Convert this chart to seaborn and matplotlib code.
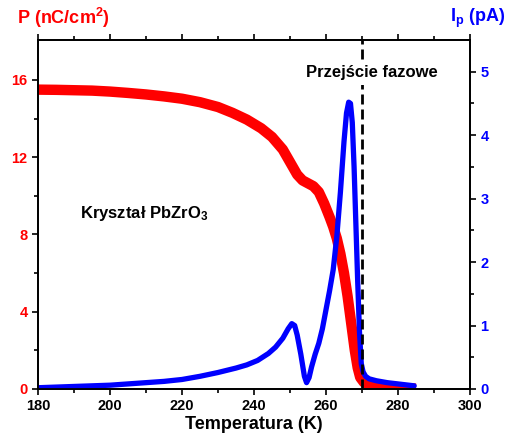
import numpy as np
import pandas as pd
import matplotlib
matplotlib.use("Agg")
from matplotlib import pyplot as plt
import seaborn as sns

# Polarization P (nC/cm^2) vs temperature
temp_p = [180, 185, 190, 195, 200, 205, 210, 215, 220, 225, 230, 234, 238, 242, 245,
          248, 250, 252, 253.5, 255, 256.5, 258, 259.5, 261, 262, 263, 264, 265, 266,
          267, 268, 268.8, 269.5, 270.5, 272, 275, 280, 285]
pol = [15.5, 15.49, 15.47, 15.45, 15.4, 15.33, 15.25, 15.15, 15.03, 14.85, 14.6, 14.3,
       13.95, 13.5, 13.05, 12.4, 11.75, 11.1, 10.8, 10.65, 10.5, 10.2, 9.6, 8.9, 8.4,
       7.8, 7.0, 6.0, 4.8, 3.4, 2.0, 1.1, 0.6, 0.35, 0.22, 0.12, 0.05, 0.02]

# Pyroelectric current Ip (pA) vs temperature
temp_i = [180, 185, 190, 195, 200, 205, 210, 215, 220, 225, 230, 235, 238, 241, 244,
          246, 248, 249.5, 250.5, 251.3, 252, 253, 254, 254.6, 255.3, 256, 257, 258,
          259, 260, 261, 262, 263, 264, 265, 265.7, 266.3, 266.8, 267.3, 267.8, 268.3,
          268.8, 269.3, 269.8, 270.3, 271, 272, 274, 277, 280, 284.5]
cur = [0.02, 0.03, 0.04, 0.05, 0.06, 0.08, 0.1, 0.12, 0.15, 0.2, 0.26, 0.33, 0.38, 0.45,
       0.56, 0.66, 0.8, 0.95, 1.03, 1.0, 0.85, 0.55, 0.2, 0.1, 0.18, 0.35, 0.55, 0.72,
       0.95, 1.25, 1.55, 1.88, 2.4, 3.1, 3.9, 4.35, 4.52, 4.5, 4.2, 3.5, 2.6,
       1.7, 0.9, 0.4, 0.27, 0.2, 0.16, 0.13, 0.1, 0.08, 0.05]

sns.set_style("ticks")
plt.rcParams["font.family"] = ["Liberation Sans", "DejaVu Sans"]
plt.rcParams["font.weight"] = "bold"
plt.rcParams["mathtext.default"] = "regular"
plt.rcParams["text.color"] = "black"
plt.rcParams["axes.labelcolor"] = "black"
plt.rcParams["xtick.color"] = "black"
plt.rcParams["ytick.color"] = "black"

red = "#ff0000"
blue = "#0000ff"

df_p = pd.DataFrame({"T": temp_p, "P": pol})
df_i = pd.DataFrame({"T": temp_i, "I": cur})

fig = plt.figure(figsize=(5.15, 4.41), dpi=100)
ax = fig.add_axes([38 / 515, 1 - 389 / 441, 432 / 515, 349 / 441])
ax2 = ax.twinx()

sns.lineplot(data=df_p, x="T", y="P", ax=ax, color=red, lw=7.5, solid_capstyle="butt")
sns.lineplot(data=df_i, x="T", y="I", ax=ax2, color=blue, lw=3.8)

ax2.axvline(270, color="black", lw=2, ls=(0, (3.6, 1.8)), zorder=5)

ax.set_xlim(180, 300)
ax.set_ylim(0, 18.07)
ax2.set_ylim(0, 5.5)

ax.set_xticks(np.arange(180, 301, 20))
ax.set_xticks(np.arange(190, 300, 20), minor=True)
ax.set_yticks([0, 4, 8, 12, 16])
ax.set_yticks([2, 6, 10, 14], minor=True)
ax2.set_yticks([0, 1, 2, 3, 4, 5])
ax2.set_yticks([0.5, 1.5, 2.5, 3.5, 4.5], minor=True)

ax.tick_params(axis="x", which="both", top=True, labelsize=10.5, width=1.2,
               color="black", labelcolor="black")
ax.tick_params(axis="x", which="major", length=4)
ax.tick_params(axis="x", which="minor", length=3)
ax.tick_params(axis="y", which="major", length=4, width=1.2, labelsize=10.5,
               color="black", labelcolor=red)
ax.tick_params(axis="y", which="minor", length=3, width=1.2, color="black")
ax2.tick_params(axis="y", which="major", length=4, width=1.2, labelsize=10.5,
                color="black", labelcolor=blue)
ax2.tick_params(axis="y", which="minor", length=3, width=1.2, color="black")

for a in (ax, ax2):
    for s in a.spines.values():
        s.set_visible(True)
        s.set_linewidth(1.3)
        s.set_color("black")

ax.set_xlabel("Temperatura (K)", fontsize=13, fontweight="bold", labelpad=2, color="black")
ax.set_ylabel("")
ax2.set_ylabel("")

fig.text(63 / 515, 1 - 18 / 441, "P (nC/cm$^2$)", color=red, fontsize=13,
         fontweight="bold", ha="center", va="center")
fig.text(478 / 515, 1 - 18 / 441, "I$_p$ (pA)", color=blue, fontsize=13,
         fontweight="bold", ha="center", va="center")

ax2.text(272.8, 4.98, "Przejście fazowe", fontsize=12, fontweight="bold",
         ha="center", va="center", color="black", zorder=6,
         bbox=dict(facecolor="white", edgecolor="none", pad=3))
ax.text(191.7, 9.1, "Kryształ PbZrO$_3$", fontsize=12, fontweight="bold",
        ha="left", va="center", color="black")

fig.savefig("out.png", dpi=100)
